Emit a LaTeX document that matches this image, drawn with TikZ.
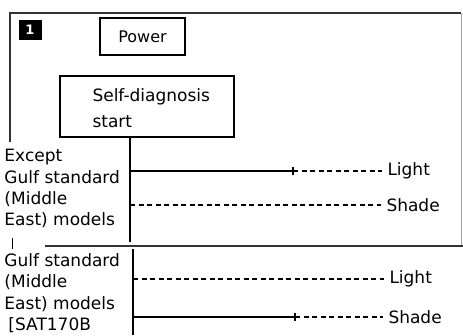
\documentclass[tikz,border=0pt]{standalone}
\usepackage{fontspec}
\setmainfont{DejaVu Sans}
\begin{document}
\begin{tikzpicture}[x=1pt,y=-1pt,line width=1pt,
  lbl/.style={anchor=west,inner sep=0pt,font=\fontsize{17}{20}\selectfont},
  boxed/.style={draw,line width=1.3pt,inner sep=0pt},
  frame/.style={line width=1.7pt,black!80},
  sig/.style={line width=1.2pt},
  dsig/.style={line width=1.1pt,dash pattern=on 5pt off 3.5pt},
  tick/.style={line width=1.1pt}]
\useasboundingbox (0,0) rectangle (463,335);
% frame
\coordinate (fl) at (10,142);
\coordinate (ftl) at (10,13);
\coordinate (ftr) at (461,13);
\coordinate (fr) at (461,246);
\draw[frame] (fl) -- (ftl) -- (ftr);
\draw[line width=0.8pt,black!35] (ftr) -- (fr);
\coordinate (sepL) at (45,246);
\coordinate (sepR) at (463,246);
\draw[frame] (sepL) -- (sepR);
\coordinate (brT) at (12,238);
\coordinate (brB) at (12,249);
\draw[line width=1pt] (brT) -- (brB);
% number
\node[fill=black,text=white,minimum width=23,minimum height=20,inner sep=0pt,
      font=\fontsize{13}{13}\selectfont\bfseries] (num) at (30,30) {1};
% boxes
\node[boxed,minimum width=85,minimum height=37,font=\fontsize{16}{19}\selectfont] (power) at (142.5,36.5) {Power};
\node[boxed,minimum width=174,minimum height=61] (sd) at (147,106.5) {};
\node[lbl] (sdt1) at (92,97) {Self-diagnosis};
\node[lbl] (sdt2) at (92,122) {start};
% left labels
\node[lbl] (a1) at (4,157) {Except};
\node[lbl] (a2) at (4,177) {Gulf standard};
\node[lbl] (a3) at (4,199) {(Middle};
\node[lbl] (a4) at (4,220) {East) models};
\node[lbl] (b1) at (4,260) {Gulf standard};
\node[lbl] (b2) at (4,282) {(Middle};
\node[lbl] (b3) at (4,304) {East) models};
\node[lbl] (b4) at (8,325) {[SAT170B};
% right labels
\node[lbl] (light1) at (387,171) {Light};
\node[lbl] (shade1) at (386,205) {Shade};
\node[lbl] (light2) at (389,279) {Light};
\node[lbl] (shade2) at (388,317) {Shade};
% upper signal
\coordinate (v1t) at (130,137);
\coordinate (v1b) at (130,242);
\draw[sig] (v1t) -- (v1b);
\coordinate (l1a) at (130,171);
\coordinate (l1t) at (293,171);
\draw[sig] (l1a) -- (l1t);
\draw[tick] ([yshift=-4pt]l1t) -- ([yshift=4pt]l1t);
\draw[dsig] (l1t) -- ([xshift=-5pt]light1.west);
\coordinate (s1a) at (130,205);
\draw[dsig] (s1a) -- ([xshift=-5pt]shade1.west);
% lower signal
\coordinate (v2t) at (133,249);
\coordinate (v2b) at (133,335);
\draw[sig] (v2t) -- (v2b);
\coordinate (l2a) at (133,279);
\draw[dsig] (l2a) -- ([xshift=-5pt]light2.west);
\coordinate (s2a) at (133,317);
\coordinate (s2t) at (295,317);
\draw[sig] (s2a) -- (s2t);
\draw[tick] ([yshift=-4pt]s2t) -- ([yshift=4pt]s2t);
\draw[dsig] (s2t) -- ([xshift=-5pt]shade2.west);
\end{tikzpicture}
\end{document}
